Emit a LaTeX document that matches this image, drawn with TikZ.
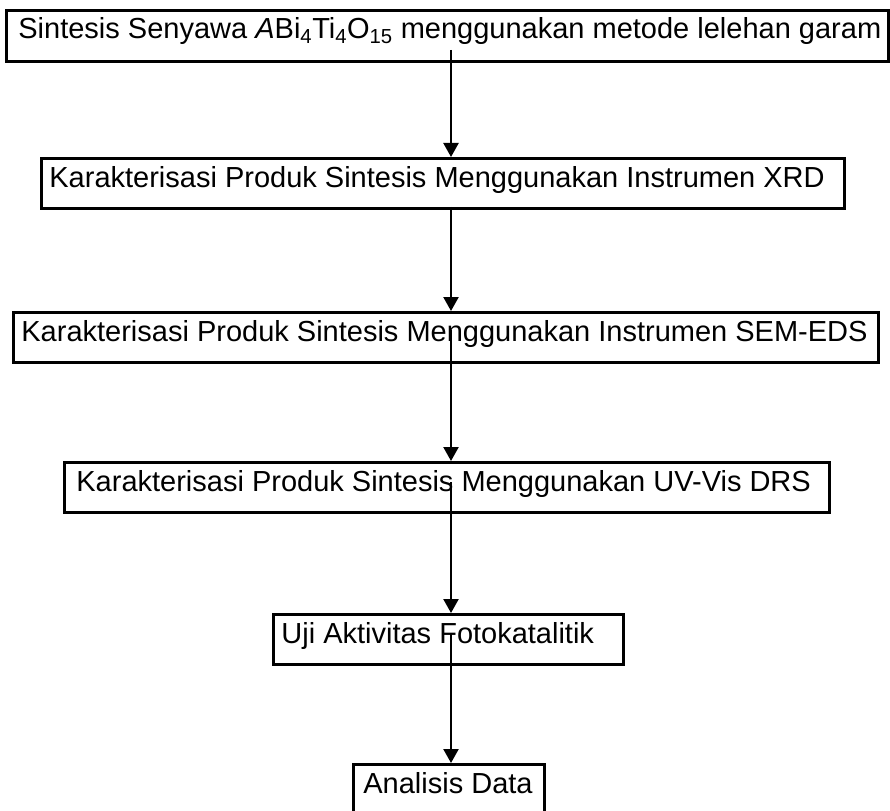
\documentclass[tikz,border=0pt]{standalone}
\usepackage{fontspec}
\setmainfont{Liberation Sans}
\usetikzlibrary{arrows.meta}
\begin{document}
\begin{tikzpicture}[x=1pt,y=-1pt,
  box/.style={draw, line width=2.8pt, inner ysep=0pt, anchor=north west,
    text height=29pt, text depth=21pt, font=\fontsize{29}{34}\selectfont},
  arr/.style={line width=2.3pt, -{Triangle[length=14pt,width=15pt]}}]
\clip (0,0) rectangle (890,810);
\node[box, inner xsep=12pt, text height=28pt, text depth=23pt] (b1) at (5,9)
  {\makebox[858pt][l]{Sintesis Senyawa \textit{A}Bi\textsubscript{4}Ti\textsubscript{4}O\textsubscript{15} menggunakan metode lelehan garam}};
\node[box, inner xsep=8pt] (b2) at (40,157)
  {\makebox[787pt][l]{Karakterisasi Produk Sintesis Menggunakan Instrumen XRD}};
\node[box, inner xsep=8pt] (b3) at (12,311)
  {\makebox[849pt][l]{Karakterisasi Produk Sintesis Menggunakan Instrumen SEM-EDS}};
\node[box, inner xsep=12pt] (b4) at (63,461)
  {\makebox[741pt][l]{Karakterisasi Produk Sintesis Menggunakan UV-Vis DRS}};
\node[box, inner xsep=8pt] (b5) at (272,613)
  {\makebox[334pt][l]{Uji Aktivitas Fotokatalitik}};
\node[box, inner xsep=10pt] (b6) at (352,763)
  {\makebox[171pt][l]{Analisis Data}};
\coordinate (s1) at (451,50);
\coordinate (s2) at (451,207);
\coordinate (s3) at (451,330);
\coordinate (s4) at (451,482);
\coordinate (s5) at (451,633);
\draw[arr] (s1) -- (s1 |- b2.north);
\draw[arr] (s2) -- (s2 |- b3.north);
\draw[arr] (s3) -- (s3 |- b4.north);
\draw[arr] (s4) -- (s4 |- b5.north);
\draw[arr] (s5) -- (s5 |- b6.north);
\end{tikzpicture}
\end{document}
